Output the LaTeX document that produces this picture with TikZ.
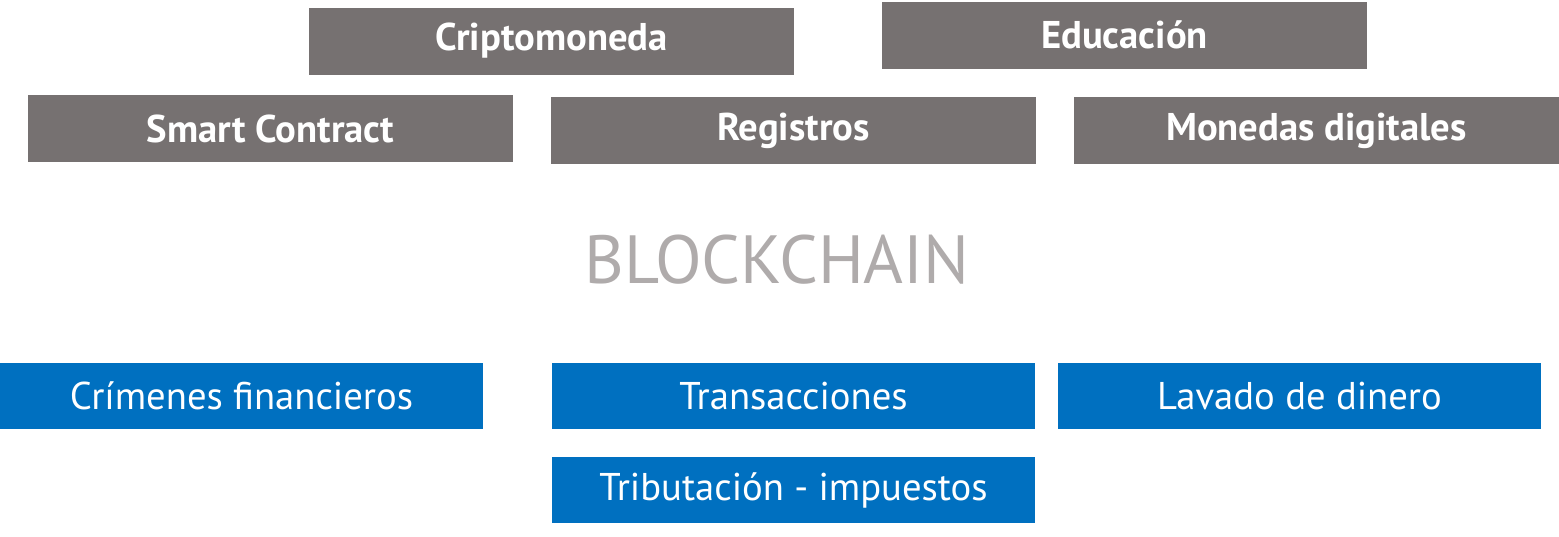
\documentclass[tikz,border=0pt]{standalone}
\usepackage{fontspec}
\setmainfont{PT Sans}
\definecolor{boxgray}{HTML}{767171}
\definecolor{boxblue}{HTML}{0070C0}
\definecolor{titlegray}{HTML}{AFABAB}
\begin{document}
\begin{tikzpicture}[
    topic/.style={fill=boxgray, text=white, font=\bfseries\fontsize{11}{13}\selectfont,
        minimum width=4.85cm, minimum height=0.67cm, inner sep=0pt},
    risk/.style={fill=boxblue, text=white, font=\fontsize{11}{13}\selectfont,
        minimum width=4.83cm, minimum height=0.66cm, inner sep=0pt}
    ]
    \useasboundingbox (0,0) rectangle (15.59,5.36);
    % Upper row of applications
    \node[topic] (cripto) at (5.515,4.95) {Criptomoneda};
    \node[topic] (educ) at (11.245,5.01) {Educación};
    \node[topic] (smart) at (2.705,4.075) {Smart Contract};
    \node[topic] (reg) at (7.935,4.055) {Registros};
    \node[topic] (monedas) at (13.165,4.055) {Monedas digitales};
    % Title
    \node[text=titlegray, font=\fontsize{19.4}{23}\selectfont] (chain) at (7.77,2.76) {BLOCKCHAIN};
    % Lower row of concerns
    \node[risk] (crimen) at (2.415,1.40) {Crímenes financieros};
    \node[risk] (trans) at (7.935,1.40) {Transacciones};
    \node[risk] (lavado) at (12.995,1.40) {Lavado de dinero};
    \node[risk] (trib) at (7.935,0.46) {Tributación - impuestos};
\end{tikzpicture}
\end{document}
